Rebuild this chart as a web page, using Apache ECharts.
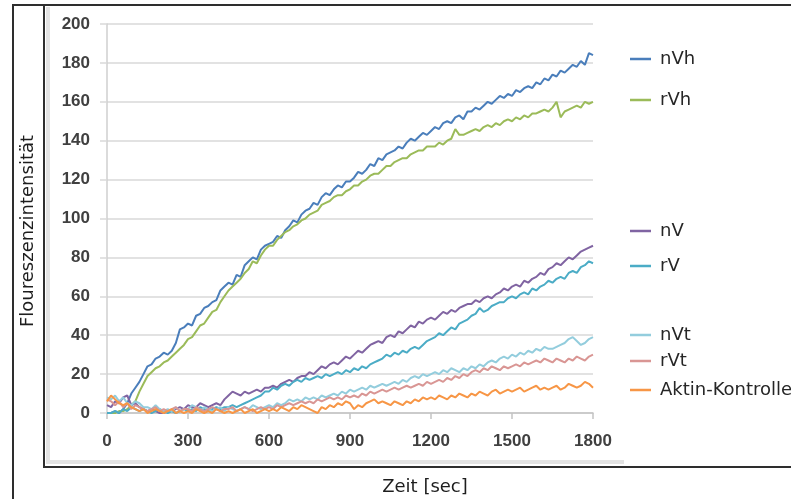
<!DOCTYPE html>
<html>
<head>
<meta charset="utf-8">
<script src="https://cdn.jsdelivr.net/npm/echarts@6/dist/echarts.min.js"></script>
<style>
  html, body { margin: 0; padding: 0; background: #fff; }
  #chart { width: 791px; height: 499px; }
</style>
</head>
<body>
<div id="chart"></div>
<script>
// Sampling grid: one reading every 15 s from 0 to 1800 s
const times = Array.from({ length: 121 }, (_, i) => i * 15);

const xTicks = [0, 300, 600, 900, 1200, 1500, 1800];
const yTicks = [0, 20, 40, 60, 80, 100, 120, 140, 160, 180, 200];

const seriesNames = ['nVh', 'rVh', 'nV', 'rV', 'nVt', 'rVt', 'Aktin-Kontrolle'];

const nVh = [
  0, 0, 1, 0, 2, 5, 10, 13, 16, 20,
  24, 25, 28, 29, 31, 30, 32, 36, 43, 44,
  46, 45, 50, 51, 54, 55, 57, 58, 63, 65,
  67, 66, 71, 70, 76, 78, 80, 79, 84, 86,
  87, 88, 91, 90, 94, 96, 99, 98, 102, 104,
  105, 108, 107, 111, 113, 112, 115, 117, 116, 119,
  119, 121, 124, 123, 125, 128, 127, 131, 130, 133,
  134, 135, 137, 136, 139, 141, 140, 142, 144, 143,
  145, 147, 146, 149, 150, 149, 152, 153, 151, 155,
  155, 157, 156, 158, 160, 159, 161, 163, 162, 164,
  163, 166, 165, 167, 168, 167, 170, 169, 172, 171,
  174, 173, 176, 175, 177, 179, 178, 181, 179, 185,
  184
];

const rVh = [
  0, 0, 0, 1, 1, 2, 4, 6, 11, 15,
  19, 21, 23, 24, 26, 27, 29, 31, 33, 35,
  38, 39, 42, 45, 46, 49, 52, 53, 57, 60,
  63, 65, 67, 69, 72, 74, 78, 77, 81, 84,
  86, 86, 89, 91, 93, 94, 96, 97, 99, 100,
  102, 103, 104, 107, 108, 109, 111, 112, 112, 114,
  115, 117, 117, 119, 120, 122, 123, 123, 125, 127,
  127, 129, 130, 131, 131, 133, 134, 135, 135, 137,
  137, 137, 139, 138, 140, 141, 146, 143, 143, 144,
  145, 146, 145, 147, 148, 147, 149, 148, 150, 151,
  150, 152, 151, 153, 152, 154, 154, 155, 156, 155,
  157, 160, 152, 155, 156, 157, 158, 157, 160, 159,
  160
];

const nV = [
  4, 3, 6, 5, 8, 9, 4, 5, 3, 2,
  1, 2, 1, 0, 0, 1, 1, 2, 3, 2,
  4, 3, 3, 5, 4, 3, 4, 5, 4, 7,
  9, 11, 10, 9, 11, 10, 11, 12, 11, 13,
  13, 14, 13, 15, 16, 17, 16, 18, 19, 19,
  21, 20, 22, 24, 23, 25, 26, 25, 27, 29,
  28, 30, 32, 31, 33, 35, 36, 37, 36, 39,
  40, 39, 42, 41, 43, 45, 44, 47, 46, 48,
  49, 48, 50, 52, 51, 53, 52, 54, 55, 56,
  56, 58, 57, 59, 60, 59, 61, 62, 64, 63,
  65, 66, 65, 68, 67, 69, 70, 72, 71, 74,
  75, 77, 76, 78, 80, 79, 81, 83, 84, 85,
  86
];

const rV = [
  0, 0, 1, 0, 2, 1, 3, 2, 1, 2,
  1, 0, 1, 2, 1, 0, 1, 0, 1, 2,
  1, 2, 1, 3, 2, 1, 2, 3, 2, 3,
  3, 4, 3, 4, 5, 6, 7, 8, 9, 11,
  11, 13, 12, 14, 15, 14, 16, 17, 16, 18,
  17, 18, 19, 18, 20, 19, 20, 21, 20, 22,
  21, 23, 22, 24, 23, 25, 26, 27, 28, 30,
  29, 31, 30, 32, 31, 33, 34, 33, 35, 37,
  38, 39, 41, 40, 42, 44, 43, 46, 47, 48,
  50, 51, 54, 52, 53, 55, 56, 57, 57, 59,
  60, 59, 61, 62, 61, 64, 63, 65, 66, 68,
  67, 69, 70, 69, 72, 73, 72, 75, 76, 78,
  77
];

const nVt = [
  8, 7, 9, 6, 8, 5, 4, 6, 5, 3,
  3, 2, 4, 2, 1, 2, 1, 3, 1, 2,
  2, 4, 3, 1, 3, 2, 1, 2, 3, 1,
  3, 2, 1, 2, 3, 2, 4, 3, 2, 3,
  4, 3, 5, 4, 5, 7, 6, 7, 6, 8,
  7, 8, 7, 9, 8, 9, 10, 9, 11, 10,
  12, 11, 12, 13, 12, 14, 13, 14, 15, 14,
  15, 16, 15, 17, 16, 18, 19, 18, 20, 19,
  20, 21, 20, 22, 21, 23, 22, 21, 23, 22,
  24, 23, 25, 24, 26, 27, 26, 28, 29, 28,
  30, 29, 31, 30, 32, 31, 33, 32, 34, 33,
  33, 34, 35, 36, 38, 39, 37, 35, 36, 38,
  39
];

const rVt = [
  7, 6, 4, 6, 3, 5, 2, 4, 3, 2,
  1, 2, 3, 1, 2, 1, 2, 3, 1, 2,
  2, 1, 3, 2, 1, 2, 3, 2, 1, 2,
  2, 3, 1, 2, 3, 2, 1, 2, 3, 2,
  3, 2, 4, 3, 4, 5, 4, 5, 6, 5,
  6, 5, 7, 6, 7, 8, 7, 8, 7, 9,
  8, 9, 8, 10, 9, 11, 10, 11, 12, 11,
  12, 13, 12, 13, 14, 13, 14, 15, 14, 16,
  15, 16, 17, 16, 18, 17, 19, 18, 20, 19,
  21, 22, 21, 23, 22, 24, 23, 22, 24, 23,
  24, 25, 24, 26, 25, 26, 27, 26, 28, 27,
  26, 28, 27, 26, 28, 27, 29, 28, 27, 29,
  30
];

const aktin = [
  6, 9, 7, 5, 4, 5, 3, 2, 1, 2,
  0, 1, 2, 1, 0, 1, 2, 0, 1, 0,
  1, 0, 2, 1, 0, 1, 0, 2, 1, 0,
  1, 0, 1, 2, 0, 1, 2, 0, 1, 2,
  1, 2, 1, 3, 2, 1, 3, 2, 4, 3,
  2, 1, 0, 3, 2, 4, 3, 5, 4, 6,
  5, 2, 4, 3, 5, 6, 7, 5, 6, 5,
  4, 6, 5, 4, 6, 5, 7, 6, 8, 7,
  8, 7, 9, 8, 7, 9, 8, 10, 9, 8,
  10, 9, 11, 10, 9, 11, 12, 10, 11, 12,
  11, 12, 13, 11, 12, 13, 14, 12, 13, 12,
  13, 14, 12, 13, 15, 14, 13, 14, 16, 15,
  13
];

const seriesValues = [nVh, rVh, nV, rV, nVt, rVt, aktin];
const colors = ['#4a7ebb', '#9bbb59', '#8064a2', '#4bacc6', '#93cddd', '#d99694', '#f79646'];

// vertical centre of each legend entry
const legendRowY = [55, 96, 227, 262, 331, 357, 386];

const chart = echarts.init(document.getElementById('chart'), null, { renderer: 'canvas' });

const gridColor = '#d9d9d9';
const tickFont = {
  fontFamily: "'Liberation Sans', Arial, sans-serif",
  fontWeight: 'bold',
  fontSize: 17,
  color: '#404040'
};

chart.setOption({
  backgroundColor: '#ffffff',
  animation: false,
  color: colors,
  grid: { left: 107, right: 198, top: 24, bottom: 86, containLabel: false },
  xAxis: {
    type: 'value',
    min: xTicks[0],
    max: xTicks[xTicks.length - 1],
    interval: 300,
    axisLine: { show: true, lineStyle: { color: '#c4c4c4', width: 1.5 } },
    axisTick: { show: true, length: 6, lineStyle: { color: '#c4c4c4', width: 1.5 } },
    axisLabel: Object.assign({ margin: 20, formatter: (v) => String(v) }, tickFont),
    splitLine: { show: false }
  },
  yAxis: {
    type: 'value',
    min: yTicks[0],
    max: yTicks[yTicks.length - 1],
    interval: 20,
    axisLine: { show: true, lineStyle: { color: '#cfcfcf', width: 1.5 } },
    axisTick: { show: true, length: 7, lineStyle: { color: gridColor, width: 1.5 } },
    axisLabel: Object.assign({ margin: 17, formatter: (v) => String(v) }, tickFont),
    splitLine: { show: true, lineStyle: { color: gridColor, width: 1.5 } }
  },
  legend: seriesNames.map((name, k) => ({
    data: [name],
    left: 625,
    top: legendRowY[k] - 10,
    icon: 'rect',
    itemWidth: 21,
    itemHeight: 2.5,
    textStyle: { fontFamily: "'DejaVu Sans', sans-serif", fontSize: 18, color: '#262626', padding: [0, 0, 0, 4] },
    selectedMode: false
  })),
  series: seriesNames.map((name, k) => ({
    name: name,
    type: 'line',
    showSymbol: false,
    symbol: 'none',
    smooth: false,
    lineStyle: { width: 2, color: colors[k] },
    itemStyle: { color: colors[k] },
    data: times.map((t, i) => [t, seriesValues[k][i]])
  })),
  graphic: [
    // outer frame
    { type: 'rect', silent: true, z: -1, shape: { x: 13, y: 5, width: 900, height: 600 },
      style: { fill: 'none', stroke: '#2e2e2e', lineWidth: 2 } },
    // chart frame
    { type: 'rect', silent: true, z: -1, shape: { x: 44, y: 5, width: 900, height: 462 },
      style: { fill: 'none', stroke: '#2e2e2e', lineWidth: 2 } },
    // soft inner panel edge
    { type: 'polyline', silent: true, z: -1, shape: { points: [[48, 7], [48, 462], [624, 462]] },
      style: { fill: 'none', stroke: '#e3e3e3', lineWidth: 4 } },
    { type: 'text', silent: true, x: 28, y: 231, rotation: Math.PI / 2,
      style: { text: 'Floureszenzintensität', fontFamily: "'DejaVu Sans', sans-serif", fontSize: 18,
               fill: '#1e1e1e', align: 'center', verticalAlign: 'middle' } },
    { type: 'text', silent: true, x: 425, y: 487,
      style: { text: 'Zeit [sec]', fontFamily: "'DejaVu Sans', sans-serif", fontSize: 18,
               fill: '#1e1e1e', align: 'center', verticalAlign: 'middle' } }
  ]
});
</script>
</body>
</html>
